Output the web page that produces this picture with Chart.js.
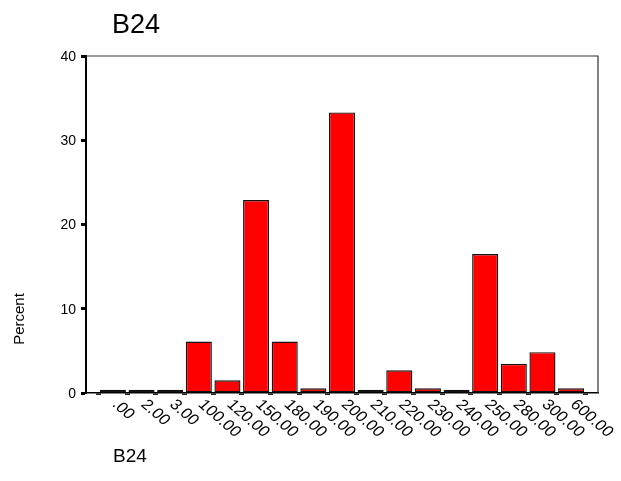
<!DOCTYPE html>
<html><head><meta charset="utf-8">
<script src="https://cdn.jsdelivr.net/npm/chart.js@4/dist/chart.umd.min.js"></script>
<style>html,body{margin:0;padding:0;background:#fff}</style>
</head><body>
<canvas id="c" width="621" height="481"></canvas>
<script>
const chartTitle = 'B24';
const xAxisTitle = 'B24';
const yAxisTitle = 'Percent';
const categories = ['.00','2.00','3.00','100.00','120.00','150.00','180.00','190.00','200.00','210.00','220.00','230.00','240.00','250.00','280.00','300.00','600.00'];
const percents = [0.4,0.4,0.4,6.1,1.5,22.9,6.1,0.55,33.3,0.4,2.7,0.55,0.4,16.5,3.45,4.85,0.55];
const yTickValues = [0,10,20,30,40];

const FONT = '"Liberation Sans", Arial, sans-serif';

const textPlugin = {
  id: 'textPlugin',
  afterDraw(chart) {
    const ctx = chart.ctx;
    const a = chart.chartArea;
    const xs = chart.scales.x, ys = chart.scales.y;
    ctx.save();
    ctx.strokeStyle = '#333';
    ctx.lineWidth = 1.2;
    ctx.beginPath();
    ctx.moveTo(a.left, a.top);
    ctx.lineTo(a.right, a.top);
    ctx.lineTo(a.right, a.bottom);
    ctx.stroke();
    ctx.fillStyle = '#000';
    // title
    ctx.font = '27px ' + FONT;
    ctx.textAlign = 'left';
    ctx.textBaseline = 'alphabetic';
    ctx.fillText(chartTitle, 112, 33);
    // y tick labels
    ctx.font = '14px ' + FONT;
    ctx.textAlign = 'right';
    ctx.textBaseline = 'middle';
    yTickValues.forEach(v => {
      ctx.fillText(String(v), 76, ys.getPixelForValue(v) + 1);
    });
    // x tick labels
    categories.forEach((lab, i) => {
      const x = xs.getPixelForValue(i);
      ctx.save();
      ctx.translate(x + 8, 397);
      ctx.scale(1.15, 1);
      ctx.rotate(Math.PI / 4);
      ctx.font = '15px ' + FONT;
      ctx.textAlign = 'left';
      ctx.textBaseline = 'top';
      ctx.fillText(lab, 0, 0);
      ctx.restore();
    });
    // y axis title
    ctx.save();
    ctx.translate(20, 319);
    ctx.rotate(-Math.PI / 2);
    ctx.font = '15px ' + FONT;
    ctx.textAlign = 'center';
    ctx.textBaseline = 'middle';
    ctx.fillText(yAxisTitle, 0, 0);
    ctx.restore();
    // x axis title
    ctx.font = '19px ' + FONT;
    ctx.textAlign = 'left';
    ctx.textBaseline = 'alphabetic';
    ctx.fillText(xAxisTitle, 113, 462);
    ctx.restore();
  }
};

new Chart(document.getElementById('c'), {
  type: 'bar',
  data: {
    datasets: [{
      data: categories.map((c, i) => ({ x: i, y: percents[i] })),
      backgroundColor: '#ff0000',
      borderColor: '#111',
      borderWidth: 1.4,
      borderSkipped: false,
      barPercentage: 0.91,
      categoryPercentage: 1.0
    }]
  },
  options: {
    responsive: false,
    animation: false,
    layout: { padding: { top: 56, right: 23, left: 0, bottom: 0 } },
    plugins: { legend: { display: false }, tooltip: { enabled: false }, title: { display: false } },
    scales: {
      x: {
        type: 'linear',
        offset: false,
        min: -0.94,
        max: 16.94,
        afterFit: s => { s.height = 88; },
        ticks: { display: false, stepSize: 1, includeBounds: false, maxTicksLimit: 100 },
        grid: { drawOnChartArea: false, drawTicks: true, tickLength: 2, tickWidth: 5, tickColor: '#222' },
        border: { display: true, color: '#000', width: 1.5 }
      },
      y: {
        min: 0,
        max: 40,
        afterFit: s => { s.width = 86; },
        ticks: { display: false, stepSize: 10 },
        grid: { drawOnChartArea: false, drawTicks: true, tickLength: 5, tickWidth: 3, tickColor: '#000' },
        border: { display: true, color: '#000', width: 2 }
      }
    }
  },
  plugins: [textPlugin]
});
</script>
</body></html>
